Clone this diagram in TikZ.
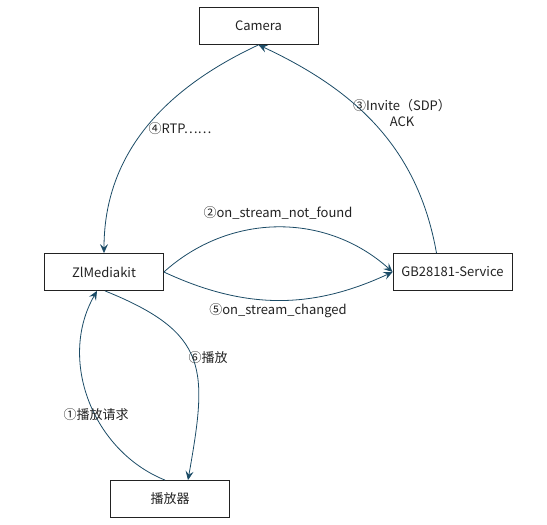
\documentclass[tikz,border=0pt]{standalone}
\usepackage{fontspec}
\setmainfont{Noto Sans CJK SC}
\usepackage[HTML]{xcolor}
\usetikzlibrary{positioning, arrows.meta}
\definecolor{flow}{HTML}{1B4B66}
\definecolor{ink}{HTML}{222222}

\begin{document}
\begin{tikzpicture}[x=1pt,y=1pt, font=\fontsize{13}{16}\selectfont,
  box/.style={draw=ink, line width=0.8pt, minimum width=119pt, minimum height=37pt, inner sep=0pt, text=ink},
  msg/.style={draw=flow, line width=0.8pt, -{Stealth[length=9pt,width=8pt,inset=3.5pt]}},
  lbl/.style={text=ink, inner sep=0pt, align=center}]
\useasboundingbox (0,0) rectangle (547,-525);
% boxes
\node[box] (cam) at (258.5,-26) {Camera};
\node[box] (zlm) at (104,-272) {ZlMediakit};
\node[box] (gb) at (452.5,-272) {GB28181-Service};
\node[box] (player) at (170,-499) {播放器};
% signalling between camera, media server and service
\draw[msg] (cam.south) to[out=205,in=90] (zlm.north);
\draw[msg] ([xshift=-16pt]gb.north) to[out=100,in=-25] (cam.south);
\draw[msg] (zlm.east) to[bend left=42] (gb.west);
\draw[msg] (zlm.east) to[bend right=25] (gb.west);
% player requests
\draw[msg] ([xshift=-5pt]player.north) to[out=158,in=-120] ([xshift=-7pt]zlm.south);
\draw[msg] ([xshift=1pt]zlm.south) to[out=-22,in=80,looseness=1.4] ([xshift=18pt]player.north);
% labels
\node[lbl] (rtp) at (180,-129) {④RTP……};
\node[lbl] (invite) at (402,-113) {③Invite（SDP）\\ACK};
\node[lbl] (notfound) at (278,-213) {②on\_stream\_not\_found};
\node[lbl] (changed) at (278,-311) {⑤on\_stream\_changed};
\node[lbl] (play) at (208,-358) {⑥播放};
\node[lbl] (req) at (96,-415) {①播放请求};
\end{tikzpicture}
\end{document}
